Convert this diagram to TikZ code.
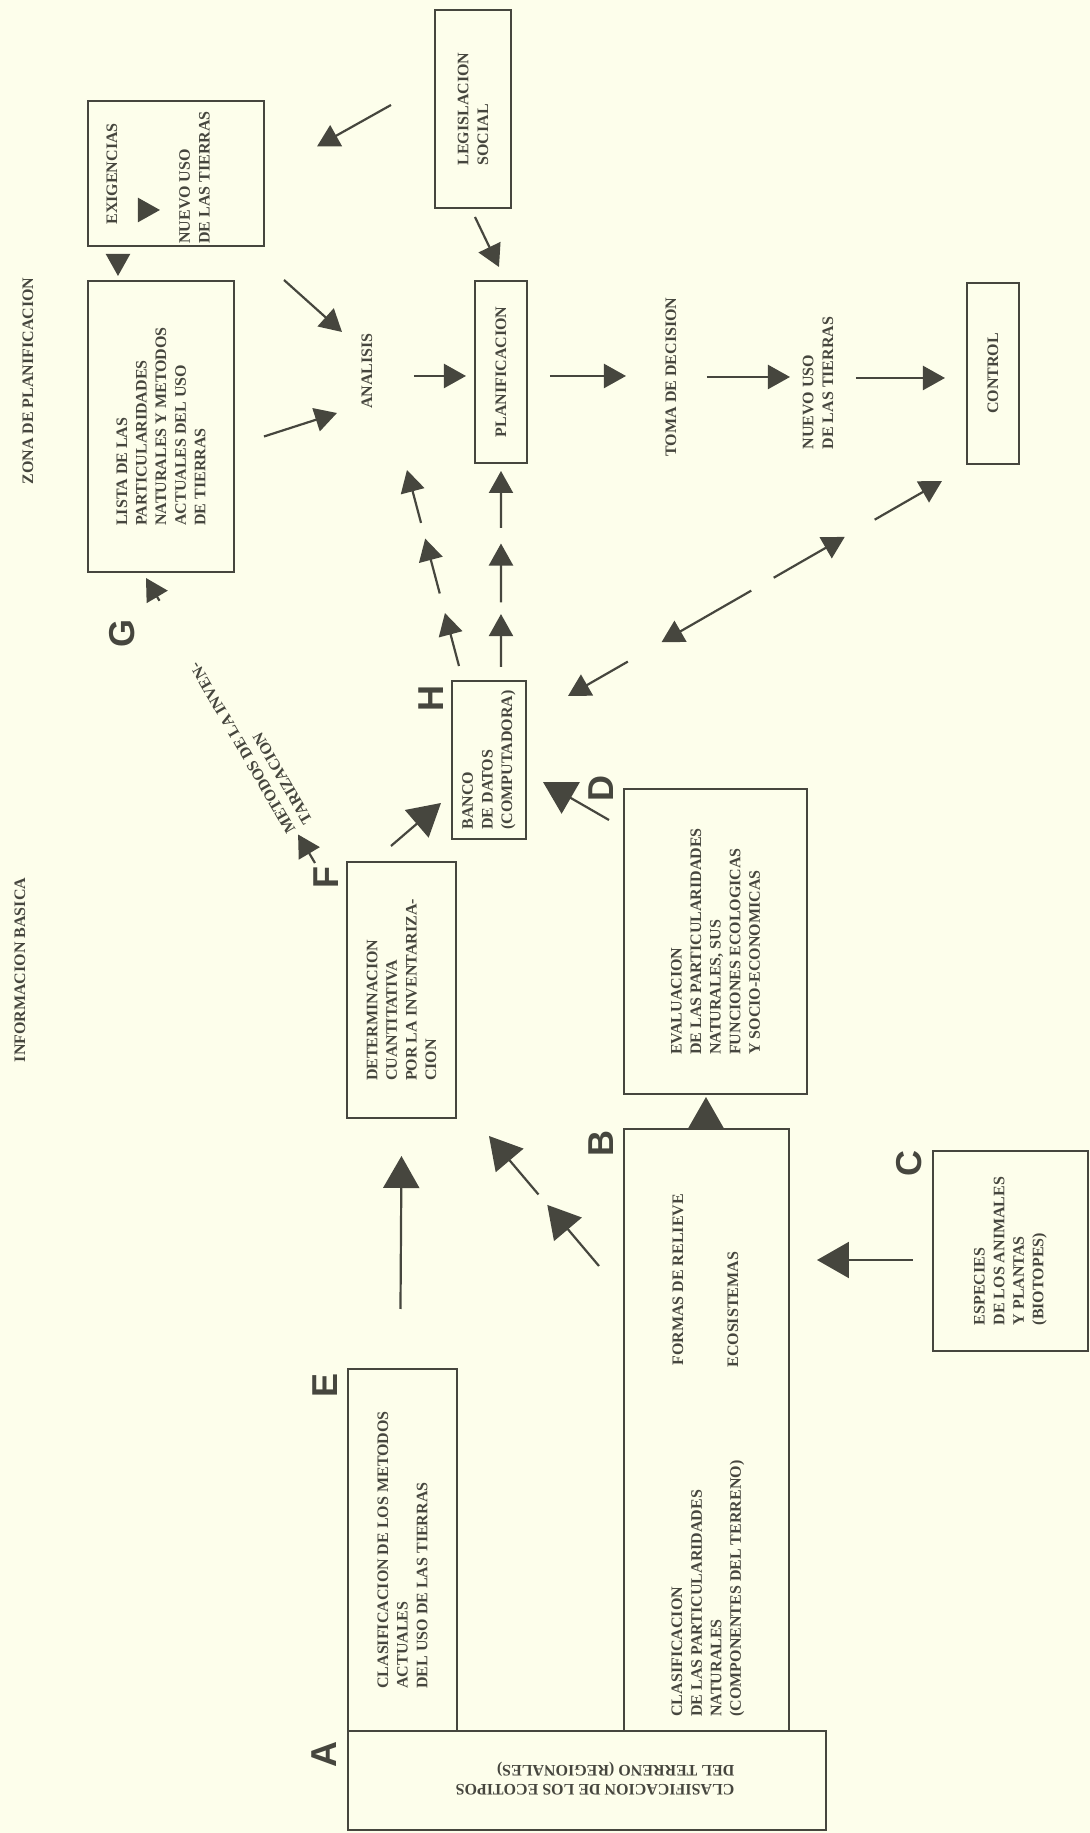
\documentclass[tikz,border=0pt]{standalone}
\usepackage{fontspec}
\setmainfont{Liberation Serif}
\newfontfamily\lblfont{Liberation Sans}
\usepackage{tikz}
\usetikzlibrary{positioning,arrows.meta,calc}
\definecolor{ink}{HTML}{46463E}
\definecolor{paper}{HTML}{FDFEEB}

\begin{document}
\begin{tikzpicture}[x=0.5pt, y=0.5pt, rotate=90, transform shape,
  box/.style={draw=ink, line width=1pt, inner sep=0pt, align=left, text=ink,
              font=\bfseries\fontsize{8}{9.8}\selectfont},
  txt/.style={inner sep=0pt, align=left, text=ink, font=\bfseries\fontsize{8}{9.8}\selectfont},
  lbl/.style={inner sep=0pt, text=ink, font=\lblfont\bfseries\fontsize{18}{18}\selectfont},
  arr/.style={-{Triangle[length=11pt,width=12pt]}, line width=1.1pt, draw=ink},
  bigarr/.style={-{Triangle[length=16pt,width=18pt]}, line width=1.1pt, draw=ink}
]
\useasboundingbox (0,0) rectangle (1833,1090);
\fill[paper] (0,0) rectangle (1833,1090);

\node[txt] (zona) at (1452,1062) {ZONA DE PLANIFICACION};
\node[txt] (info) at (863,1070) {INFORMACION BASICA};

% zona de planificacion
\node[box, minimum width=72.5pt, minimum height=88pt] (exig) at (1659.5,914) {};
\node[txt] (exigtxt) at (1659,978) {EXIGENCIAS};
\node[txt, anchor=west] (usotxt) at (1589,895.5) {NUEVO USO\\DE LAS TIERRAS};
\node[box, minimum width=145.5pt, minimum height=73pt] (lista) at (1406.5,929)
  {LISTA DE LAS\\PARTICULARIDADES\\NATURALES Y METODOS\\ACTUALES DEL USO\\DE TIERRAS};
\node[box, minimum width=99pt, minimum height=38pt] (leg) at (1724,617) {LEGISLACION\\SOCIAL};
\node[txt] (analisis) at (1462,723) {ANALISIS};
\node[box, minimum width=91pt, minimum height=26pt] (plan) at (1461,589) {PLANIFICACION};
\node[txt] (toma) at (1456,419) {TOMA DE DECISION};
\node[txt] (nuevo) at (1450,272) {NUEVO USO\\DE LAS TIERRAS};
\node[box, minimum width=90.5pt, minimum height=26pt] (control) at (1459.5,97) {CONTROL};

% informacion basica
\node[box, minimum width=79pt, minimum height=37pt] (banco) at (1073,601) {BANCO\\DE DATOS\\(COMPUTADORA)};
\node[box, minimum width=128pt, minimum height=54.5pt] (det) at (843,688.5)
  {DETERMINACION\\CUANTITATIVA\\POR LA INVENTARIZA-\\CION};
\node[box, minimum width=152.5pt, minimum height=91.5pt] (evl) at (891.5,374.5)
  {EVALUACION\\DE LAS PARTICULARIDADES\\NATURALES, SUS\\FUNCIONES ECOLOGICAS\\Y SOCIO-ECONOMICAS};
\node[box, minimum width=301pt, minimum height=82.5pt] (bbox) at (403,383.5) {};
\node[txt, anchor=west] (bleft) at (116,382)
  {CLASIFICACION\\DE LAS PARTICULARIDADES\\NATURALES\\(COMPONENTES DEL TERRENO)};
\node[txt, anchor=west] (formas) at (467,412) {FORMAS DE RELIEVE};
\node[txt, anchor=west] (ecosis) at (465,357) {ECOSISTEMAS};
\node[box, minimum width=181pt, minimum height=54.5pt] (ebox) at (283,687.5)
  {CLASIFICACION DE LOS METODOS\\ACTUALES\\DEL USO DE LAS TIERRAS};
\node[box, minimum width=49.5pt, minimum height=239pt] (abox) at (52.5,503) {};
\node[txt, rotate=90] (atxt) at (54.5,495) {CLASIFICACION DE LOS ECOTIPOS\\DEL TERRENO (REGIONALES)};
\node[box, minimum width=100pt, minimum height=77.5pt] (cbox) at (582,79.5)
  {ESPECIES\\DE LOS ANIMALES\\Y PLANTAS\\(BIOTOPES)};

% letters
\node[lbl] (labA) at ($(abox.north east)+(-25,23)$) {A};
\node[lbl] (labB) at ($(bbox.north east)+(-16,22)$) {B};
\node[lbl] (labC) at ($(cbox.north east)+(-14,23)$) {C};
\node[lbl] (labD) at ($(evl.north east)+(-1,22)$) {D};
\node[lbl] (labE) at ($(ebox.north east)+(-17,22)$) {E};
\node[lbl] (labF) at ($(det.north east)+(-17,20)$) {F};
\node[lbl] (labG) at ($(lista.north west)+(-61,-35)$) {G};
\node[lbl] (labH) at ($(banco.north east)+(-19,20)$) {H};

% planning chain
\draw[arr] ($(exigtxt)+(-36,-26)$) -- ($(usotxt.west)+(34,34.5)$);
\draw[arr] ($(exig.west)+(-9,58)$) -- ($(lista.east)+(4,43)$);
\draw[arr] ($(leg.north)+(4,43)$) -- ($(exig.south)+(27,-52)$);
\draw[arr] ($(leg.west)+(-8,-2)$) -- ($(plan.east)+(13,2)$);
\draw[arr] ($(lista.south east)+(0,-49)$) -- ($(analisis)+(39,25)$);
\draw[arr] ($(lista.south)+(-10,-29)$) -- ($(analisis)+(-42,30)$);
\draw[arr] ($(analisis)+(-5,-47)$) -- ($(plan.north)+(-4,8)$);
\draw[arr] ($(plan.south)+(-4,-22)$) -- ($(toma)+(1,45)$);
\draw[arr] ($(toma)+(0,-36)$) -- ($(nuevo)+(6,28)$);
\draw[arr] ($(nuevo)+(5,-38)$) -- ($(control.north)+(-4.5,21)$);

% data bank links
\coordinate (bk1) at ($(banco.east)+(14,30)$);
\coordinate (an1) at ($(analisis)+(-99,-40)$);
\foreach \s/\e in {0/0.27,0.37/0.65,0.73/1}
  \draw[arr] ($(bk1)!\s!(an1)$) -- ($(bk1)!\e!(an1)$);
\coordinate (bk2) at ($(banco.east)+(13,-12)$);
\coordinate (pl2) at ($(plan.west)+(-7,0)$);
\foreach \s/\e in {0/0.27,0.33/0.63,0.71/1}
  \draw[arr] ($(bk2)!\s!(pl2)$) -- ($(bk2)!\e!(pl2)$);
\coordinate (bk3) at ($(banco.south east)+(-16,-41)$);
\coordinate (ct3) at ($(control.north west)+(-16,24)$);
\foreach \s/\e in {0.16/0,0.49/0.25,0.55/0.74,0.82/1}
  \draw[arr] ($(bk3)!\s!(ct3)$) -- ($(bk3)!\e!(ct3)$);

% inventory methods
\coordinate (fg1) at ($(det.north east)+(-2,31)$);
\coordinate (fg2) at ($(lista.south west)+(-5,89)$);
\draw[arr] (fg1) -- ($(fg1)!0.1!(fg2)$);
\node[txt, rotate=30] (metodos) at ($(fg1)!0.42!(fg2)+(0,-7)$) {METODOS DE LA INVEN-\\TARIZACION};
\draw[arr] ($(fg1)!0.92!(fg2)$) -- (fg2);

% basic information arrows
\draw[bigarr] ($(evl.north east)+(-32,14)$) -- ($(banco.south)+(-22,-16)$);
\draw[bigarr] ($(det.north east)+(15,-45)$) -- ($(banco.north west)+(37,10)$);
\draw[bigarr] ($(ebox.east)+(59,2)$) -- ($(det.west)+(-37,0)$);
\draw[bigarr] ($(cbox.north)+(-9,19)$) -- ($(bbox.south east)+(-132,-27)$);
\draw[bigarr] ($(bbox.east)+(0,0.5)$) -- ($(evl.west)+(-2,9.5)$);
\coordinate (bq1) at ($(bbox.north east)+(-138,24)$);
\coordinate (dq2) at ($(det.south west)+(-17,-32)$);
\foreach \s/\e in {0/0.47,0.55/1}
  \draw[bigarr] ($(bq1)!\s!(dq2)$) -- ($(bq1)!\e!(dq2)$);
\end{tikzpicture}
\end{document}
